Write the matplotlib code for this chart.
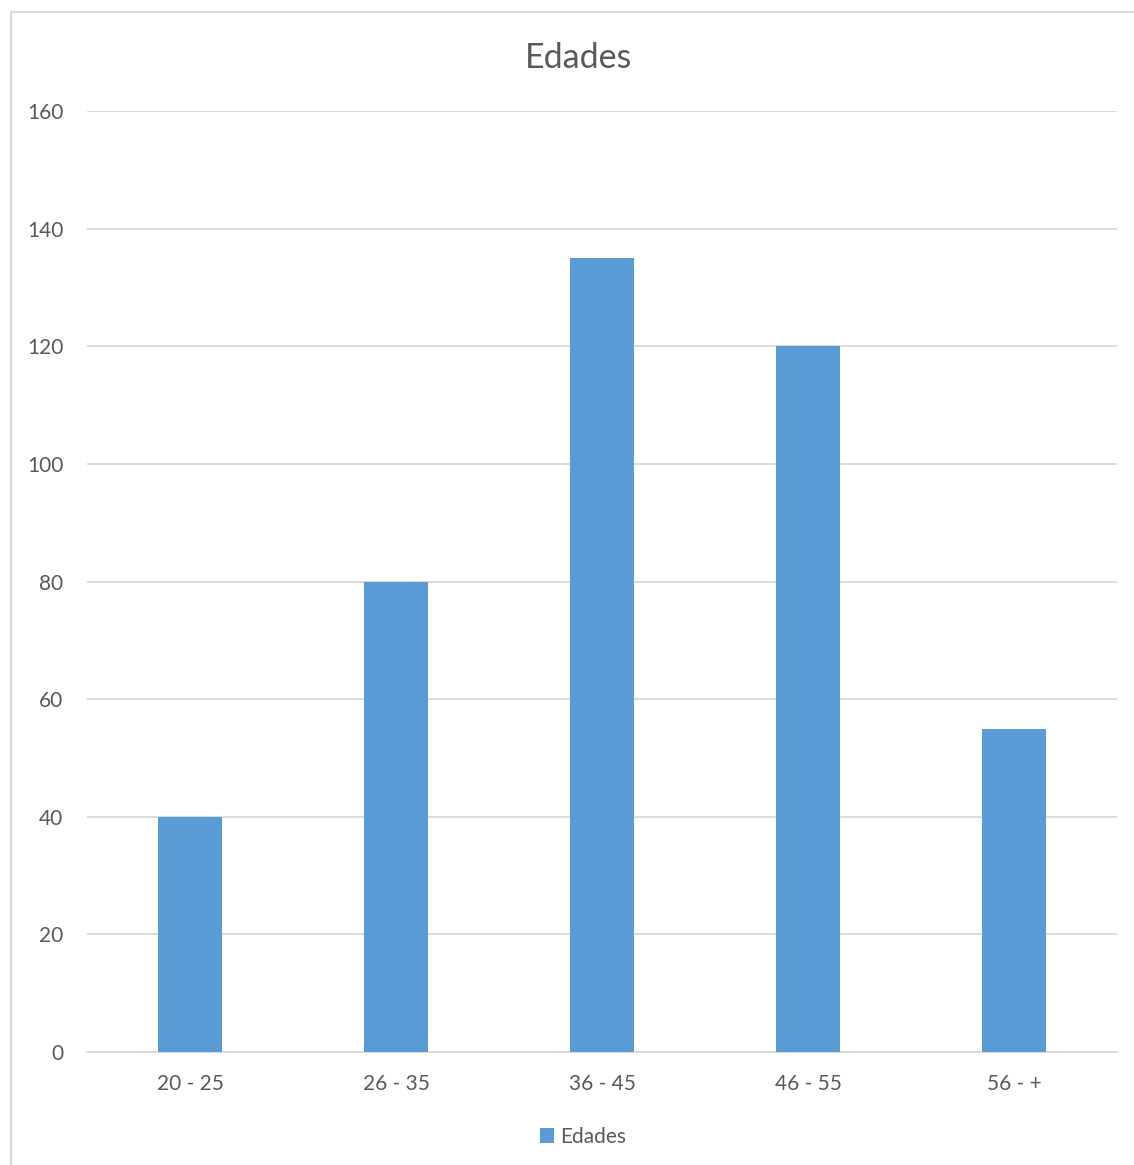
import matplotlib.pyplot as plt
from matplotlib.patches import Rectangle

categorias = ["20 - 25", "26 - 35", "36 - 45", "46 - 55", "56 - +"]
edades = [40, 80, 135, 120, 55]
yticks = [0, 20, 40, 60, 80, 100, 120, 140, 160]

plt.rcParams['font.family'] = ['Lato', 'DejaVu Sans']
gris = "#595959"

fig = plt.figure(figsize=(11.34, 11.65), dpi=100)
ax = fig.add_axes([87/1134, 113/1165, 1030/1134, 941/1165])

x = range(len(categorias))
ax.bar(x, edades, width=0.315, color="#5B9BD5", label="Edades", zorder=3)

ax.set_xlim(-0.5, len(categorias) - 0.5)
ax.set_ylim(0, 160)
ax.set_yticks(yticks)
ax.set_xticks(list(x))
ax.set_xticklabels(categorias)
ax.tick_params(axis="y", length=0, pad=17, labelsize=15, labelcolor=gris)
ax.tick_params(axis="x", length=0, pad=16, labelsize=15, labelcolor=gris)
ax.grid(axis="y", color="#D9D9D9", linewidth=1.3, zorder=0)
for s in ["top", "right", "left"]:
    ax.spines[s].set_visible(False)
ax.spines["bottom"].set_color("#D9D9D9")
ax.spines["bottom"].set_linewidth(1.3)

fig.text(579/1134, 1 - 58/1165, "Edades", ha="center", va="center",
         fontsize=24.5, color=gris)

fig.legend(loc="center", bbox_to_anchor=(583/1134, 1 - 1137/1165),
           frameon=False, fontsize=15, labelcolor=gris,
           handlelength=0.7, handleheight=0.7, handletextpad=0.3)

# borde del gráfico
fig.patches.append(Rectangle((11/1134, -0.05), 1.2, 1 - 12/1165 + 0.05,
                             transform=fig.transFigure, fill=False,
                             edgecolor="#D9D9D9", linewidth=1.5))

fig.savefig("out.png", dpi=100)
